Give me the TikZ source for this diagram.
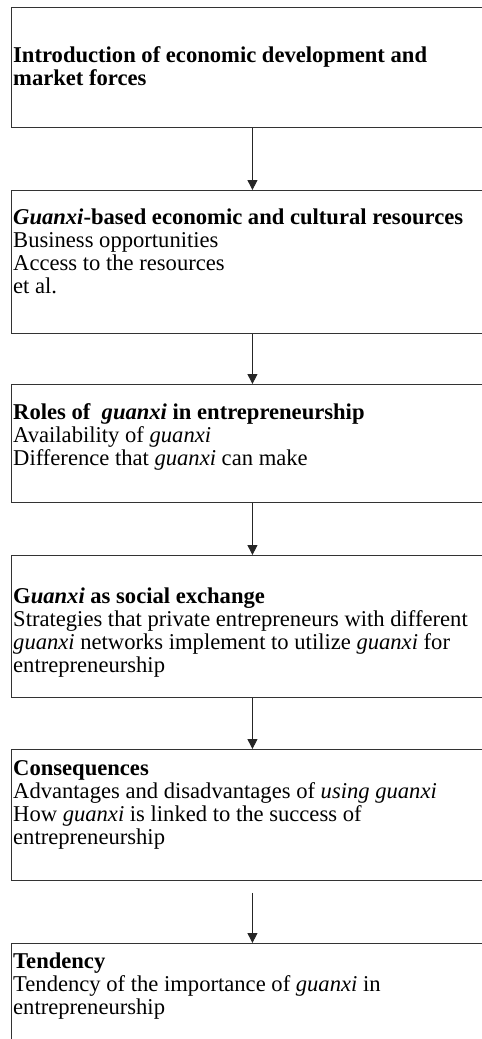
\documentclass[tikz,border=0pt]{standalone}
\usepackage{fontspec}
\setmainfont{Liberation Serif}
\usetikzlibrary{arrows.meta,positioning}
\tikzset{
  stage/.style={draw=black!80, line width=0.9pt, anchor=north west,
    minimum width=483pt, inner sep=0pt},
  body/.style={anchor=north west, align=left, inner sep=0pt,
    font=\fontsize{22.6}{23}\selectfont},
  flow/.style={draw=black!85, line width=0.9pt, -{Triangle[width=10pt,length=10pt]}}
}
\begin{document}
\begin{tikzpicture}[x=1pt,y=1pt]
\useasboundingbox (0,0) rectangle (482,-1039);
\clip (0,0) rectangle (482,-1039);
% frames
\node[stage, minimum height=120pt] (intro) at (10.5,-7) {};
\node[stage, minimum height=143pt] (resources) at (10.5,-190) {};
\node[stage, minimum height=118pt] (roles) at (10.5,-384) {};
\node[stage, minimum height=142pt] (exchange) at (10.5,-555) {};
\node[stage, minimum height=131pt] (conseq) at (10.5,-749) {};
\node[stage, minimum height=130pt] (tendency) at (10.5,-943) {};
%
\node[body] (introtext) at ([xshift=2.5pt,yshift=-39pt]intro.north west)
  {\textbf{Introduction of economic development and}\\
   \textbf{market forces}};
\node[body] (resourcestext) at ([xshift=2.5pt,yshift=-19pt]resources.north west)
  {\textbf{\textit{Guanxi}-based economic and cultural resources}\\
   Business opportunities\\
   Access to the resources\\
   et al.};
\node[body] (rolestext) at ([xshift=2.5pt,yshift=-19pt]roles.north west)
  {\textbf{Roles of\ \ \textit{guanxi} in entrepreneurship}\\
   Availability of \textit{guanxi}\\
   Difference that \textit{guanxi} can make};
\node[body] (exchangetext) at ([xshift=2.5pt,yshift=-33pt]exchange.north west)
  {\textbf{G\textit{uanxi} as social exchange}\\
   Strategies that private entrepreneurs with different\\
   \textit{guanxi} networks implement to utilize \textit{guanxi} for\\
   entrepreneurship};
\node[body] (conseqtext) at ([xshift=2.5pt,yshift=-11pt]conseq.north west)
  {\textbf{Consequences}\\
   Advantages and disadvantages of \textit{using guanxi}\\
   How \textit{guanxi} is linked to the success of\\
   entrepreneurship};
\node[body] (tendencytext) at ([xshift=2.5pt,yshift=-10pt]tendency.north west)
  {\textbf{Tendency}\\
   Tendency of the importance of \textit{guanxi} in\\
   entrepreneurship};
%
\draw[flow] (intro.south) -- (resources.north);
\draw[flow] (resources.south) -- (roles.north);
\draw[flow] (roles.south) -- (exchange.north);
\draw[flow] (exchange.south) -- (conseq.north);
\draw[flow] ([yshift=-12pt]conseq.south) -- (tendency.north);
\end{tikzpicture}
\end{document}
